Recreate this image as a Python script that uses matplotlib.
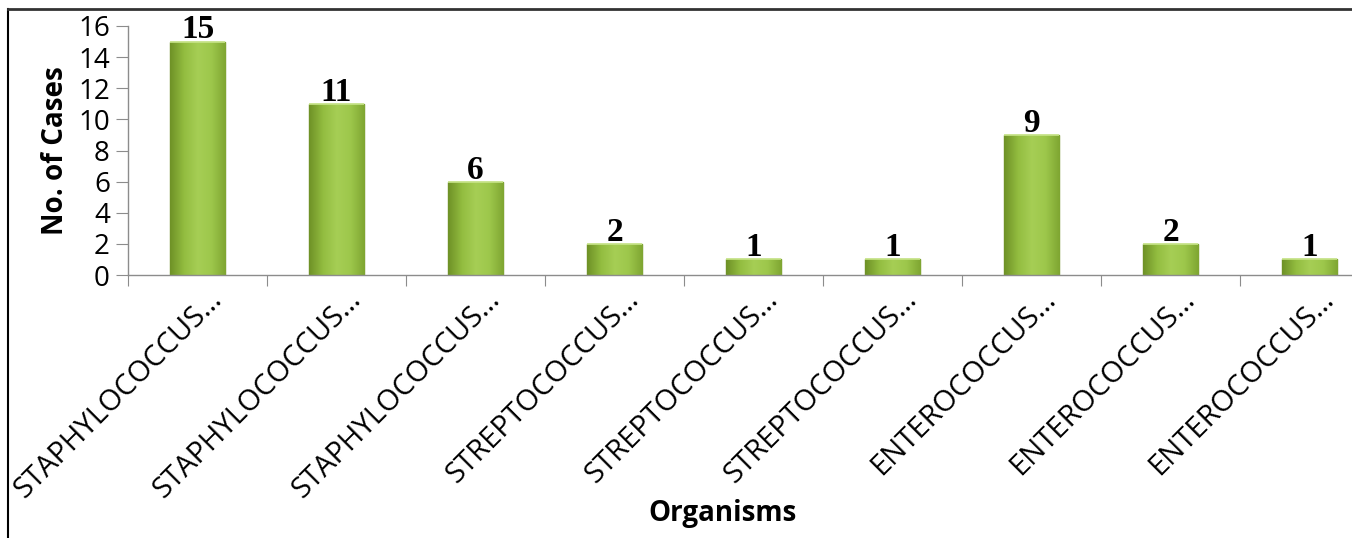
import numpy as np
import matplotlib.pyplot as plt
from matplotlib.transforms import ScaledTranslation
from matplotlib.colors import LinearSegmentedColormap

organisms = ["STAPHYLOCOCCUS…", "STAPHYLOCOCCUS…", "STAPHYLOCOCCUS…",
             "STREPTOCOCCUS…", "STREPTOCOCCUS…", "STREPTOCOCCUS…",
             "ENTEROCOCCUS…", "ENTEROCOCCUS…", "ENTEROCOCCUS…"]
cases = [15, 11, 6, 2, 1, 1, 9, 2, 1]
yticks = [0, 2, 4, 6, 8, 10, 12, 14, 16]

W, H = 1352, 538
fig = plt.figure(figsize=(W / 100, H / 100), dpi=100)
fig.patch.set_facecolor("white")

# axes area in pixels: y axis at x=128, baseline at y=275, top (16) at y=26
step = 139.0
left, right = 128, W
ax = fig.add_axes([left / W, (H - 275) / H, (right - left) / W, (275 - 26) / H])

x = np.arange(len(cases))
bars = ax.bar(x, cases, width=0.4, color="#9BC34A", edgecolor="#6B8E23",
              linewidth=1.0, zorder=2)

# bevel-like shading inside each bar
cmap = LinearSegmentedColormap.from_list(
    "bevel", ["#6F9227", "#93BD40", "#A6CE55", "#9DC74B", "#7FA632"])
grad = np.linspace(0, 1, 64).reshape(1, -1)
for b in bars:
    x0, w, h = b.get_x(), b.get_width(), b.get_height()
    im = ax.imshow(grad, cmap=cmap, aspect="auto", extent=[x0, x0 + w, 0, h],
                   zorder=2.5, interpolation="bicubic")
    im.set_clip_path(b)
    ax.plot([x0, x0 + w], [h, h], color="#C8E58A", lw=1.2, zorder=3,
            solid_capstyle="butt")

for xi, v in zip(x, cases):
    ax.text(xi, v + 0.2, str(v), ha="center", va="baseline",
            fontsize=24, fontweight="bold", family="Liberation Serif",
            color="black", zorder=4)

ax.set_xlim(-0.5, -0.5 + (right - left) / step)
ax.set_ylim(0, 16)

for s in ["top", "right"]:
    ax.spines[s].set_visible(False)
for s in ["left", "bottom"]:
    ax.spines[s].set_color("#8C8C8C")
    ax.spines[s].set_linewidth(1.0)

ax.set_yticks(yticks)
ax.set_yticklabels([str(t) for t in yticks], fontsize=20, family="Open Sans")
ax.tick_params(axis="y", length=9, color="#8C8C8C", pad=4)

# category boundary ticks
ax.set_xticks(np.arange(0, 9) - 0.5)
ax.set_xticklabels([])
ax.tick_params(axis="x", length=8, color="#8C8C8C")

offset = ScaledTranslation(10 / 100, -10 / 100, fig.dpi_scale_trans)
for xi, name in zip(x, organisms):
    t = ax.text(xi, 0, name, rotation=45, ha="right", va="top",
                rotation_mode="anchor", fontsize=21, family="Open Sans",
                transform=ax.get_xaxis_transform())
    t.set_transform(t.get_transform() + offset)

ax.set_ylabel("No. of Cases", fontsize=20, fontweight="bold",
              family="Open Sans", labelpad=6)
fig.text(723 / W, 1 - 513 / H, "Organisms", ha="center", va="center",
         fontsize=20, fontweight="bold", family="Open Sans")

# frame lines on top and left
fig.add_artist(plt.Line2D([8 / W, 8 / W], [0, 1 - 9 / H], color="black",
                          lw=1.5, transform=fig.transFigure))
fig.add_artist(plt.Line2D([8 / W, 1], [1 - 9 / H, 1 - 9 / H], color="#333333",
                          lw=2.0, transform=fig.transFigure))

fig.savefig("out.png", dpi=100, facecolor="white")
